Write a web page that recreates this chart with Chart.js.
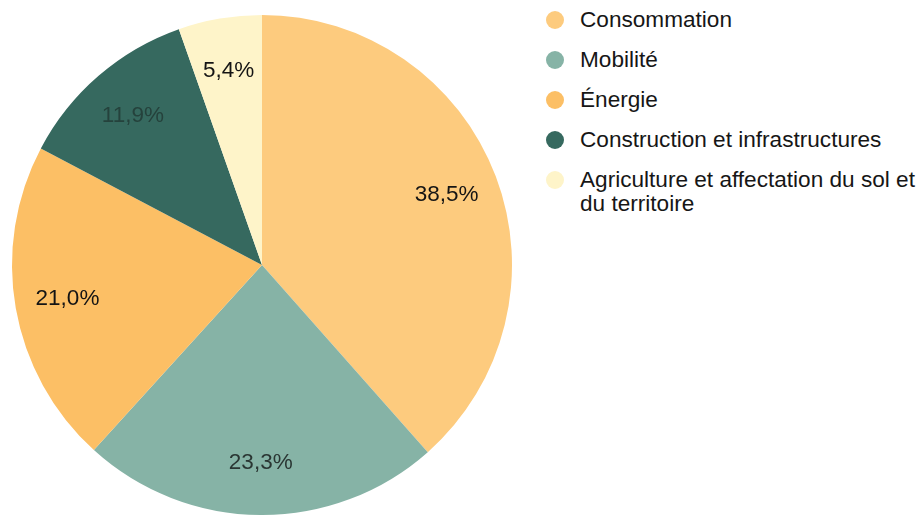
<!DOCTYPE html>
<html lang="fr">
<head>
<meta charset="utf-8">
<script src="https://cdn.jsdelivr.net/npm/chart.js@4.4.1/dist/chart.umd.min.js"></script>
<style>
  html, body { margin: 0; padding: 0; background: #fff; }
  body { width: 923px; height: 515px; position: relative; overflow: hidden;
         font-family: "Liberation Sans", Arial, sans-serif; }
  #pie-wrap { position: absolute; left: 0; top: 0; width: 524px; height: 515px; }
  #legend { position: absolute; left: 545px; top: 8px; width: 375px; margin: 0; padding: 0; list-style: none; }
  #legend li { position: relative; padding-left: 35px; font-size: 22.6px; line-height: 24px;
               color: #161616; margin-bottom: 16px; }
  #legend .dot { position: absolute; left: 1px; top: 3px; width: 18px; height: 18px; border-radius: 50%; }
</style>
</head>
<body>
<div id="pie-wrap"><canvas id="pie"></canvas></div>
<ul id="legend"></ul>
<script>
  // --- données ---
  const categories = [
    "Consommation",
    "Mobilité",
    "Énergie",
    "Construction et infrastructures",
    "Agriculture et affectation du sol et du territoire"
  ];
  const shares = [38.5, 23.3, 21.0, 11.9, 5.4];

  // --- couleurs ---
  const sliceColors = ['#fdcb7e', '#86b3a6', '#fcbf65', '#36695f', '#fef4c9'];
  const labelColors = ['#141414', '#2a3633', '#141414', '#25423c', '#141414'];

  // Légende HTML
  const legend = document.getElementById('legend');
  categories.forEach((cat, i) => {
    const li = document.createElement('li');
    li.innerHTML = `<span class="dot" style="background:${sliceColors[i]}"></span>${cat}`;
    legend.appendChild(li);
  });

  // Étiquettes de pourcentage dans les parts
  const sliceLabels = {
    id: 'sliceLabels',
    afterDatasetsDraw(chart, args, opts) {
      const c = chart.ctx;
      const meta = chart.getDatasetMeta(0);
      c.save();
      c.font = opts.font;
      c.textAlign = 'center';
      c.textBaseline = 'middle';
      meta.data.forEach((arc, i) => {
        const p = arc.getProps(['x', 'y', 'startAngle', 'endAngle', 'outerRadius'], true);
        const mid = (p.startAngle + p.endAngle) / 2;
        const r = p.outerRadius * opts.factor;
        const txt = shares[i].toFixed(1).replace('.', ',') + '%';
        c.fillStyle = labelColors[i];
        c.fillText(txt, p.x + Math.cos(mid) * r, p.y + Math.sin(mid) * r);
      });
      c.restore();
    }
  };

  new Chart(document.getElementById('pie'), {
    type: 'pie',
    data: {
      labels: categories,
      datasets: [{
        data: shares,
        backgroundColor: sliceColors,
        borderWidth: 0
      }]
    },
    options: {
      responsive: true,
      maintainAspectRatio: false,
      animation: false,
      layout: { padding: { left: 12, right: 12, top: 15, bottom: 0 } },
      plugins: {
        legend: { display: false },
        tooltip: { enabled: false },
        sliceLabels: { factor: 0.79, font: '22.5px "Liberation Sans", Arial, sans-serif' }
      }
    },
    plugins: [sliceLabels]
  });
</script>
</body>
</html>
